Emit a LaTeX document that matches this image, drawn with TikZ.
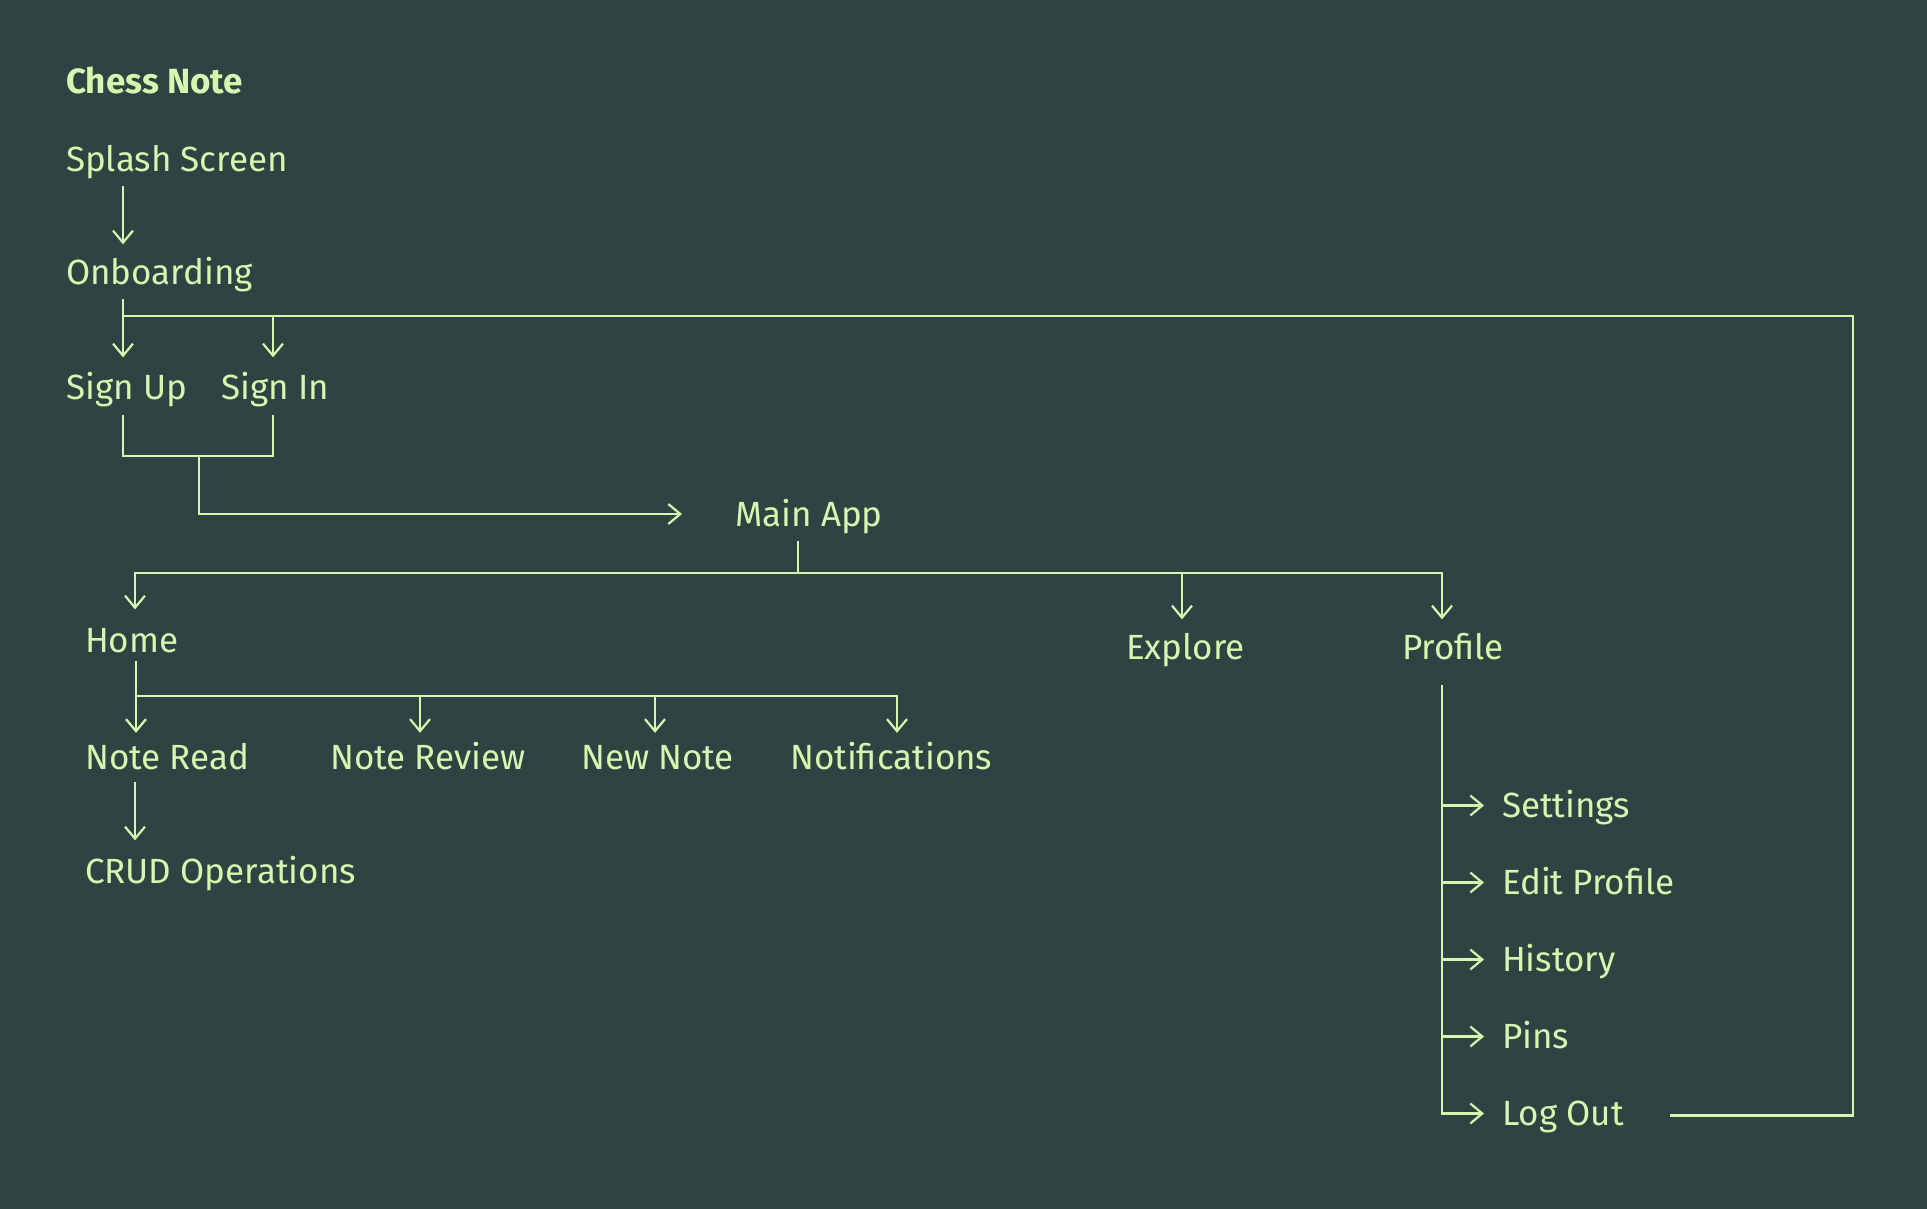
\documentclass[tikz,border=0pt]{standalone}
\usepackage{fontspec}
\setmainfont{Fira Sans}
\usetikzlibrary{positioning,arrows.meta}
\definecolor{slate}{RGB}{49,66,67}
\definecolor{lime}{RGB}{217,246,176}

\begin{document}
\begin{tikzpicture}[>={Straight Barb[length=6pt,width=10pt]},line width=1.1pt,color=lime,
    screen node/.style={inner sep=0pt,text height=12.05pt,text depth=0pt,anchor=west,font=\fontsize{17.5}{21}\selectfont},
    title node/.style={screen node,font=\fontsize{17.5}{21}\selectfont\bfseries}]
    \fill[slate] (0,0) rectangle (963.5pt,-604.5pt);

    \node[title node] (title) at (32.5pt,-40.5pt) {Chess Note};
    \node[screen node, below=39.25pt of title.west, anchor=west] (splash) {Splash Screen};
    \node[screen node, below=56.5pt of splash.west, anchor=west] (onboard) {Onboarding};
    \node[screen node, below=57.5pt of onboard.west, anchor=west] (signup) {Sign Up};
    \node[screen node, right=77.5pt of signup.west, anchor=west] (signin) {Sign In};
    \node[screen node, below right=63.25pt and 334.5pt of signup.west, anchor=west] (mainapp) {Main App};
    \node[screen node, below right=126.5pt and 9.5pt of signup.west, anchor=west] (home) {Home};
    \node[screen node, below right=3.5pt and 520.5pt of home.west, anchor=west] (explore) {Explore};
    \node[screen node, right=138pt of explore.west, anchor=west] (profile) {Profile};
    \node[screen node, below=58.25pt of home.west, anchor=west] (noteread) {Note Read};
    \node[screen node, right=122.5pt of noteread.west, anchor=west] (notereview) {Note Review};
    \node[screen node, right=125.5pt of notereview.west, anchor=west] (newnote) {New Note};
    \node[screen node, right=104.5pt of newnote.west, anchor=west] (notifs) {Notifications};
    \node[screen node, below=57.25pt of noteread.west, anchor=west] (crud) {CRUD Operations};
    \node[screen node, below right=79pt and 50pt of profile.west, anchor=west] (settings) {Settings};
    \node[screen node, below=38.5pt of settings.west, anchor=west] (editprof) {Edit Profile};
    \node[screen node, below=38.5pt of editprof.west, anchor=west] (history) {History};
    \node[screen node, below=38.5pt of history.west, anchor=west] (pins) {Pins};
    \node[screen node, below=38.5pt of pins.west, anchor=west] (logout) {Log Out};

    % start of the app
    \draw[->] ([xshift=29pt,yshift=-6.5pt]splash.south west) -- ([xshift=29pt,yshift=7.5pt]onboard.north west);
    \coordinate (obar) at ([xshift=29pt,yshift=-15pt]onboard.south west);
    \draw[->] ([xshift=29pt,yshift=-6.5pt]onboard.south west) -- ([xshift=29pt,yshift=8.5pt]signup.north west);
    \draw[->] (obar) -| ([xshift=26.5pt,yshift=8.5pt]signin.north west);
    \draw ([xshift=29pt,yshift=-7pt]signup.south west) |- ([xshift=26.5pt,yshift=-27.5pt]signin.south west)
        -- ([xshift=26.5pt,yshift=-7pt]signin.south west);
    \draw[->] ([xshift=67pt,yshift=-27.5pt]signup.south west) |- ([xshift=-26pt]mainapp.west);

    % main app tabs
    \coordinate (mbar) at ([xshift=32pt,yshift=-23pt]mainapp.south west);
    \draw ([xshift=32pt,yshift=-7pt]mainapp.south west) -- (mbar);
    \foreach \n/\dx/\dy in {home/25.5/9, explore/28.5/7.5, profile/20.5/7.5}
        \draw[->] (mbar) -| ([xshift=\dx pt,yshift=\dy pt]\n.north west);

    % home
    \coordinate (hbar) at ([xshift=26pt,yshift=-21pt]home.south west);
    \draw[->] ([xshift=26pt,yshift=-3.5pt]home.south west) -- ([xshift=26pt,yshift=5.5pt]noteread.north west);
    \foreach \n/\dx in {notereview/45.5, newnote/37.5, notifs/54}
        \draw[->] (hbar) -| ([xshift=\dx pt,yshift=5.5pt]\n.north west);
    \draw[->] ([xshift=25.5pt,yshift=-6pt]noteread.south west) -- ([xshift=25.5pt,yshift=9pt]crud.north west);

    % profile
    \coordinate (ptop) at ([xshift=20.5pt,yshift=-12pt]profile.south west);
    \draw[->] (ptop) |- ([xshift=-8.5pt]logout.west);
    \foreach \n in {settings, editprof, history, pins}
        \draw[->] (ptop |- \n.west) -- ([xshift=-8.5pt]\n.west);

    % log out goes back to onboarding
    \draw ([xshift=84.5pt,yshift=-1pt]logout.west) -- ++(91.5pt,0) |- (obar);
\end{tikzpicture}
\end{document}
